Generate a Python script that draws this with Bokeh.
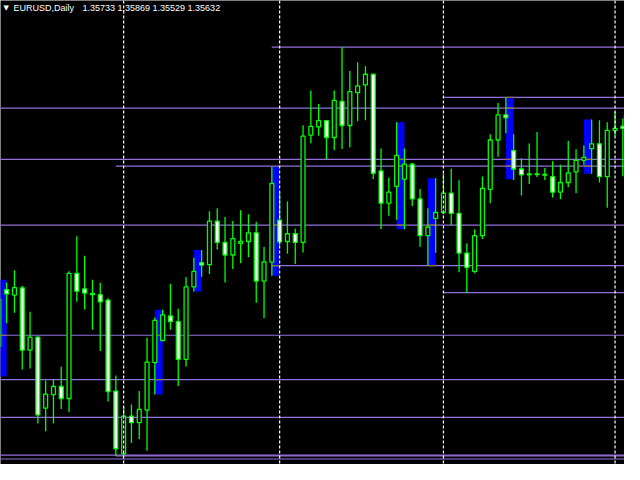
from bokeh.plotting import figure
from bokeh.models import Range1d, Span, Label, ColumnDataSource
from bokeh.embed import file_html
from bokeh.resources import INLINE

# ---------------- data (EURUSD daily) ----------------
open_ = [1.34420, 1.35010, 1.34953, 1.35027, 1.34383, 1.34517, 1.33783, 1.33923, 1.34007, 1.33883,
         1.35177, 1.35017, 1.34970, 1.34957, 1.34900, 1.33960, 1.33310, 1.33700, 1.33633, 1.33763,
         1.34253, 1.34483, 1.34737, 1.34677, 1.34287, 1.35037, 1.35287, 1.35267, 1.35717, 1.35497,
         1.35367, 1.35487, 1.35507, 1.35597, 1.35097, 1.35293, 1.35727, 1.35507, 1.35587, 1.35497,
         1.36607, 1.36693, 1.36757, 1.36583, 1.36957, 1.36707, 1.37047, 1.37127, 1.37237, 1.36237,
         1.35903, 1.36077, 1.36153, 1.36307, 1.35947, 1.35567, 1.35747, 1.35807, 1.36007, 1.35797,
         1.35387, 1.35197, 1.35567, 1.36047, 1.36557, 1.36817, 1.36447, 1.36257, 1.36207, 1.36207,
         1.36200, 1.36177, 1.36017, 1.36117, 1.36227, 1.36347, 1.36467, 1.36517, 1.36177, 1.36657,
         1.36700]
high = [1.35110, 1.35083, 1.35210, 1.35050, 1.34780, 1.34527, 1.34070, 1.34077, 1.34210, 1.35200,
        1.35560, 1.35360, 1.35110, 1.35080, 1.34920, 1.34120, 1.33797, 1.33820, 1.33960, 1.34510,
        1.34720, 1.34800, 1.35070, 1.34810, 1.35140, 1.35340, 1.35420, 1.35820, 1.35850, 1.35760,
        1.35720, 1.35830, 1.35790, 1.35710, 1.35450, 1.36283, 1.36020, 1.35920, 1.35640, 1.36710,
        1.37070, 1.36930, 1.36757, 1.37070, 1.37517, 1.37270, 1.37360, 1.37320, 1.37237, 1.36470,
        1.36170, 1.36740, 1.36470, 1.36320, 1.36050, 1.35850, 1.36160, 1.36210, 1.36260, 1.36140,
        1.35490, 1.35630, 1.36180, 1.36617, 1.36940, 1.37000, 1.36617, 1.36367, 1.36520, 1.36640,
        1.36267, 1.36337, 1.36300, 1.36550, 1.36460, 1.36500, 1.36770, 1.36760, 1.36740, 1.36850,
        1.36780]
low = [1.34110, 1.34660, 1.34770, 1.34183, 1.34193, 1.33623, 1.33543, 1.33623, 1.33773, 1.33743,
       1.34883, 1.34803, 1.34593, 1.34373, 1.33853, 1.33287, 1.33300, 1.33423, 1.33463, 1.33343,
       1.33923, 1.34480, 1.34593, 1.34013, 1.34213, 1.34990, 1.35143, 1.35170, 1.35423, 1.35083,
       1.35223, 1.35283, 1.35343, 1.34873, 1.34713, 1.35153, 1.35470, 1.35380, 1.35273, 1.35393,
       1.36523, 1.36600, 1.36360, 1.36450, 1.36463, 1.36480, 1.36750, 1.36760, 1.36153, 1.35633,
       1.35773, 1.35733, 1.35633, 1.35873, 1.35453, 1.35257, 1.35390, 1.35790, 1.35677, 1.35190,
       1.34977, 1.35177, 1.35533, 1.35903, 1.36383, 1.36627, 1.36143, 1.35983, 1.36103, 1.36173,
       1.36143, 1.35963, 1.35943, 1.36067, 1.36007, 1.36300, 1.36207, 1.36117, 1.35857, 1.36600,
       1.36183]
close = [1.34910, 1.34965, 1.35030, 1.34383, 1.34517, 1.33713, 1.33927, 1.34007, 1.33883, 1.35177,
         1.34993, 1.34973, 1.34957, 1.34883, 1.33953, 1.33363, 1.33700, 1.33633, 1.33770, 1.34260,
         1.34690, 1.34747, 1.34677, 1.34287, 1.35037, 1.35197, 1.35263, 1.35717, 1.35497, 1.35367,
         1.35537, 1.35507, 1.35597, 1.35097, 1.35297, 1.36107, 1.35503, 1.35587, 1.35497, 1.36597,
         1.36697, 1.36757, 1.36583, 1.36967, 1.36707, 1.37057, 1.37117, 1.37237, 1.36213, 1.35903,
         1.36017, 1.36397, 1.36307, 1.35947, 1.35567, 1.35657, 1.35807, 1.36007, 1.35797, 1.35387,
         1.35237, 1.35567, 1.36057, 1.36557, 1.36817, 1.36787, 1.36257, 1.36197, 1.36197, 1.36200,
         1.36193, 1.36017, 1.36117, 1.36217, 1.36347, 1.36377, 1.36517, 1.36177, 1.36657, 1.36677,
         1.36677]

# horizontal levels drawn across the whole chart
full_levels = [1.36887, 1.36357, 1.35677, 1.34537, 1.34077, 1.33687, 1.33297, 1.33257]
# monthly high / low levels: (price, bar index where the line starts)
month_levels = [1.36287, 1.33290, 1.37517, 1.35257, 1.36997, 1.34977]
month_start = [15, 15, 35, 35, 57, 57]

# blue range boxes: start bar, top, bottom
box_start = [0, 20, 25, 35, 51, 55, 65, 75, 80]
box_top = [1.35110, 1.34800, 1.35420, 1.36283, 1.36740, 1.36160, 1.36997, 1.36770, 1.36820]
box_bottom = [1.34110, 1.33923, 1.34990, 1.35153, 1.35633, 1.35257, 1.36150, 1.36207, 1.36775]

# period separators (bar index)
separators = [16, 36, 57, 79]

symbol = "EURUSD,Daily"
quote = ["1.35733", "1.35869", "1.35529", "1.35632"]

# ---------------- styling ----------------
LIME = "#00FF00"
PURPLE = "#9370DB"
BLUE = "#0000FF"
XOR = "#937024"

W, H = 624, 464
p = figure(width=W, height=H, x_range=Range1d(0.2125, 80.2125), y_range=Range1d(1.332, 1.380),
           output_backend="svg", toolbar_location=None, min_border=0,
           x_axis_type=None, y_axis_type=None,
           background_fill_color="black", border_fill_color="black", outline_line_color=None)
p.grid.visible = False

idx = list(range(len(open_)))

# blue boxes
p.quad(left=box_start, right=[b + 1 for b in box_start], top=box_top, bottom=box_bottom,
       fill_color=BLUE, line_color=None)

# horizontal lines
p.segment(x0=[-5] * len(full_levels), x1=[90] * len(full_levels), y0=full_levels, y1=full_levels,
          line_color=PURPLE, line_width=1.2)
p.segment(x0=month_start, x1=[90] * len(month_levels), y0=month_levels, y1=month_levels,
          line_color=PURPLE, line_width=1.2)

# where lines cross the blue boxes they appear in an inverted (brown) tone
xs0, xs1, ys = [], [], []
all_levels = [(lv, -5) for lv in full_levels] + list(zip(month_levels, month_start))
for b, t, btm in zip(box_start, box_top, box_bottom):
    for lv, st in all_levels:
        if btm <= lv <= t and st <= b:
            xs0.append(b); xs1.append(b + 1); ys.append(lv)
if xs0:
    p.segment(x0=xs0, x1=xs1, y0=ys, y1=ys, line_color=XOR, line_width=1.2)

# candles
p.segment(x0=idx, x1=idx, y0=low, y1=high, line_color=LIME, line_width=1.3)
fills = ["black" if c >= o else "white" for o, c in zip(open_, close)]
src = ColumnDataSource(dict(x=idx, top=[max(o, c) for o, c in zip(open_, close)],
                            bottom=[min(o, c) for o, c in zip(open_, close)], fill=fills))
p.vbar(x="x", width=0.5, top="top", bottom="bottom", source=src,
       fill_color="fill", line_color=LIME, line_width=1.3)

# period separators
for s in separators:
    p.add_layout(Span(location=s, dimension="height", line_color="white",
                      line_dash="3 2", line_width=1.2))

# header
ty = H - 7.5
p.add_layout(Label(x=3, y=ty, x_units="screen", y_units="screen", text="\u25BC",
                   text_color="white", text_font_size="7px", text_font="DejaVu Sans",
                   text_baseline="middle"))
p.add_layout(Label(x=13, y=ty, x_units="screen", y_units="screen", text=symbol,
                   text_color="white", text_font_size="9px", text_font="Liberation Sans",
                   text_baseline="middle"))
p.add_layout(Label(x=82, y=ty, x_units="screen", y_units="screen", text=" ".join(quote),
                   text_color="white", text_font_size="9px", text_font="Liberation Sans",
                   text_baseline="middle"))

open("out.html", "w").write(file_html(p, INLINE))
